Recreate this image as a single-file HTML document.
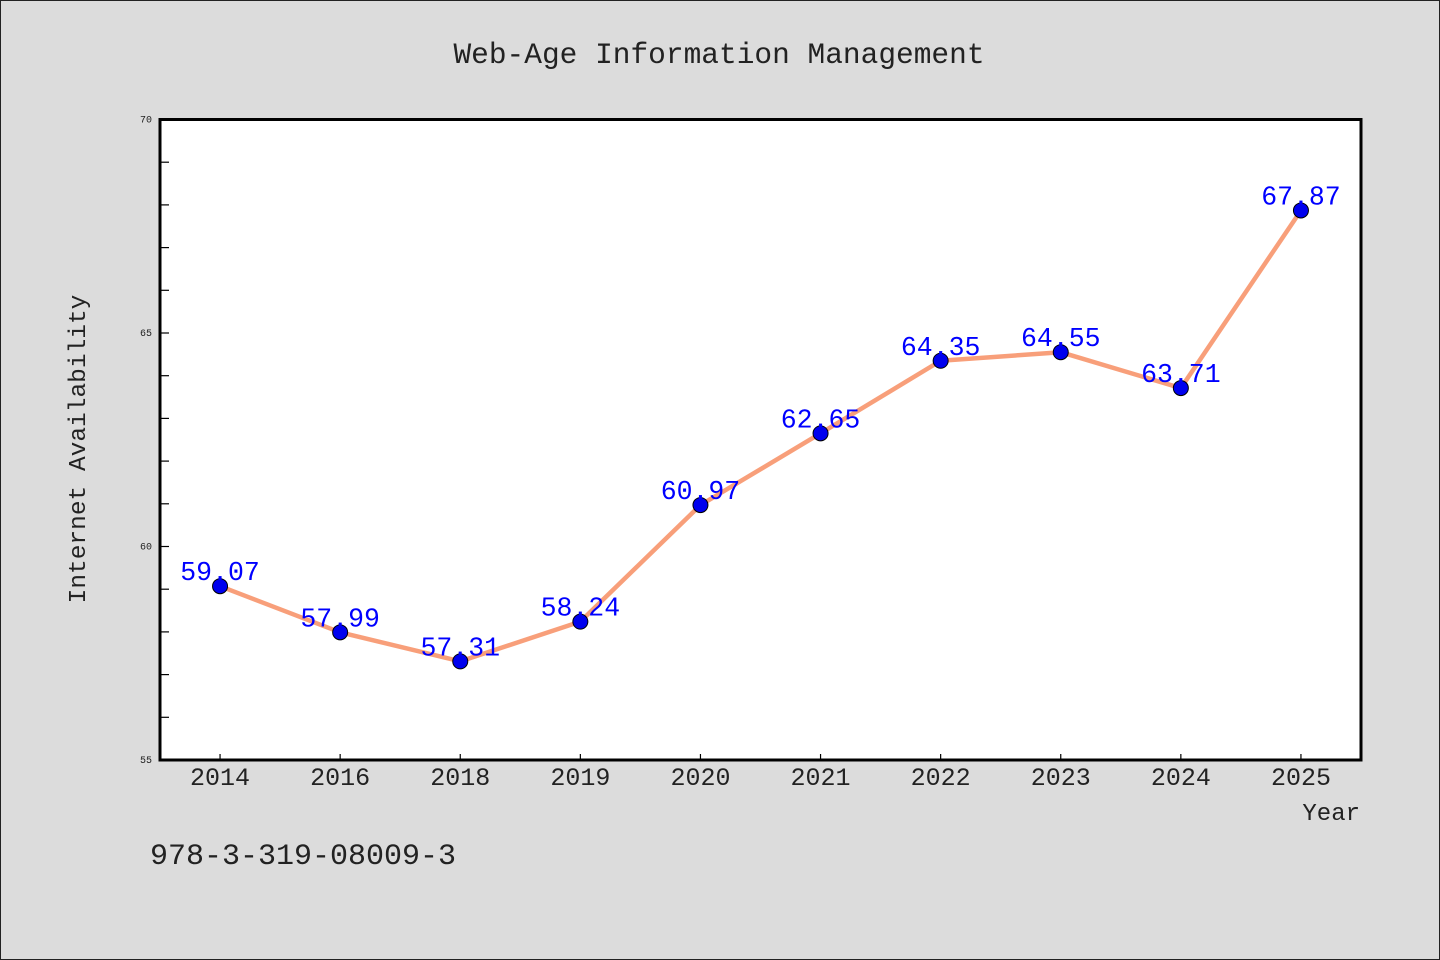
<!DOCTYPE html>
<html><head><meta charset="utf-8"><style>
body{margin:0;background:#dcdcdc;}
svg{display:block;font-family:"Liberation Mono","DejaVu Sans Mono",monospace;}
</style></head><body>
<svg width="1440" height="960" id="c">
<rect x="0.5" y="0.5" width="1439" height="959" fill="#dcdcdc" stroke="#222"/>
<text x="719" y="63" text-anchor="middle" font-size="29.5" fill="#222">Web-Age Information Management</text>
<rect x="160" y="119.5" width="1201" height="640.5" fill="#fff"/>
<g id="g"></g>
<rect x="160" y="119.5" width="1201" height="640.5" fill="none" stroke="#000" stroke-width="3"/>
<text x="85" y="449" text-anchor="middle" font-size="24.5" fill="#222" transform="rotate(-90 85 449)">Internet Availability</text>
<text x="1360" y="820" text-anchor="end" font-size="24" fill="#222">Year</text>
<text x="150" y="864" font-size="30" fill="#222">978-3-319-08009-3</text>
</svg>
<script>
const categories=["2014","2016","2018","2019","2020","2021","2022","2023","2024","2025"];
const values=[59.07,57.99,57.31,58.24,60.97,62.65,64.35,64.55,63.71,67.87];
const labels=["59.07","57.99","57.31","58.24","60.97","62.65","64.35","64.55","63.71","67.87"];
const yTicks=[55,60,65,70];
const yMin=55,yMax=70;
const L=160,R=1361,T=119.5,B=760;
const ns="http://www.w3.org/2000/svg";
const g=document.getElementById("g");
const x=i=>L+(R-L)/categories.length*(i+0.5);
const y=v=>B-(v-yMin)/(yMax-yMin)*(B-T);
function mk(t,a){const e=document.createElementNS(ns,t);for(const k in a)e.setAttribute(k,a[k]);g.appendChild(e);return e;}
for(let v=yMin+1;v<yMax;v++){const e=mk("line",{x1:L,x2:L+9,y1:y(v),y2:y(v),stroke:"#000","stroke-width":1.2});

}
yTicks.forEach(v=>{const e=mk("text",{x:L-8,y:y(v)+3,"text-anchor":"end","font-size":10,fill:"#222"});e.textContent=v;

});
categories.forEach((c,i)=>{const t=mk("line",{x1:x(i),x2:x(i),y1:B,y2:B-6,stroke:"#000","stroke-width":1.2});


const e=mk("text",{x:x(i),y:B+25,"text-anchor":"middle","font-size":25,fill:"#222"});e.textContent=c;

});
const line=mk("polyline",{points:values.map((v,i)=>x(i)+","+y(v)).join(" "),fill:"none",stroke:"#f89f7a","stroke-width":4.5,"stroke-linejoin":"round"});


values.forEach((v,i)=>{const p=mk("circle",{cx:x(i),cy:y(v),r:7.5,fill:"#0000ee",stroke:"#000","stroke-width":1});

});
values.forEach((v,i)=>{const e=mk("text",{x:x(i),y:y(v)-6,"text-anchor":"middle","font-size":26.5,fill:"#0000ff"});e.textContent=labels[i];

});
</script>
</body></html>
